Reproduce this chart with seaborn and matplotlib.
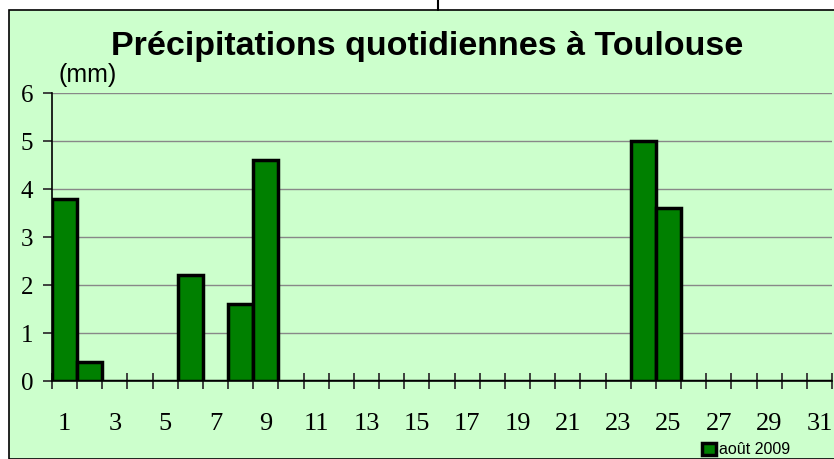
import matplotlib
matplotlib.use('Agg')
import matplotlib.pyplot as plt
import matplotlib.patches as mpatches
import pandas as pd
import seaborn as sns

# Data: daily rainfall in August 2009 (mm)
days = list(range(1, 32))
rain = [3.8, 0.4, 0, 0, 0, 2.2, 0, 1.6, 4.6, 0,
        0, 0, 0, 0, 0, 0, 0, 0, 0, 0,
        0, 0, 0, 5.0, 3.6, 0, 0, 0, 0, 0, 0]
series_name = 'août 2009'

df = pd.DataFrame({'jour': [str(d) for d in days], 'pluie': rain})

sns.set_style('white')
plt.rcParams['font.family'] = ['Liberation Sans', 'DejaVu Sans']
plt.rcParams['text.color'] = 'black'
plt.rcParams['xtick.color'] = 'black'
plt.rcParams['ytick.color'] = 'black'

W, H = 834, 459
fig = plt.figure(figsize=(W / 100, H / 100), dpi=100, facecolor='white')

# chart area background with border
bg = mpatches.Rectangle((9 / W, 0), 1, 1 - 10 / H, transform=fig.transFigure,
                        facecolor='#CCFFCC', edgecolor='black', linewidth=1.2, zorder=-5)
fig.add_artist(bg)
fig.add_artist(plt.Line2D([438 / W, 438 / W], [1 - 10 / H, 1], color='black', linewidth=1.5,
                          transform=fig.transFigure, zorder=-4))

ax = fig.add_axes([52 / W, (H - 381) / H, (832 - 52) / W, (381 - 93) / H])
ax.set_facecolor('none')
ax.set_zorder(1)

sns.barplot(data=df, x='jour', y='pluie', color='#008000', width=1.0, edgecolor='black',
            linewidth=2.5, saturation=1, label=series_name, ax=ax, zorder=3)

ax.set_xlim(-0.5, len(days) - 0.5)
ax.set_ylim(0, 6)
ax.set_yticks(range(0, 7))
ax.yaxis.grid(True, color='#888888', linewidth=1, zorder=0)
ax.set_axisbelow(True)

ax.set_xticks(range(0, len(days), 2))
ax.set_xticklabels([str(d) for d in days[::2]])
ax.set_xticks([i - 0.5 for i in range(len(days) + 1)], minor=True)
ax.tick_params(axis='x', which='major', bottom=True, length=0, pad=23, labelsize=19)
ax.tick_params(axis='x', which='minor', bottom=True, direction='inout', length=12, width=1.3,
               color='#333333')
ax.tick_params(axis='y', direction='out', length=6.5, width=1.3, color='#333333', pad=7,
               labelsize=18, left=True)
for lab in ax.get_xticklabels() + ax.get_yticklabels():
    lab.set_family('Liberation Serif')

ax.set_xlabel('')
ax.set_ylabel('')
for s in ['top', 'right']:
    ax.spines[s].set_visible(False)
ax.spines['left'].set_color('black')
ax.spines['bottom'].set_color('black')
ax.spines['left'].set_linewidth(1.2)
ax.spines['bottom'].set_linewidth(1.2)

fig.text(427 / W, 1 - 46 / H, 'Précipitations quotidiennes à Toulouse', ha='center',
         va='center', fontsize=24.5, fontweight='bold')
fig.text(59 / W, 1 - 75 / H, '(mm)', ha='left', va='center', fontsize=18)

ax.legend(loc='center left', bbox_to_anchor=(702 / W, 1 - 450 / H), bbox_transform=fig.transFigure,
          frameon=False, fontsize=11.5, handlelength=0.85, handleheight=0.85, handletextpad=0.2,
          borderpad=0, borderaxespad=0)

fig.savefig('out.png', dpi=100, facecolor='white')
